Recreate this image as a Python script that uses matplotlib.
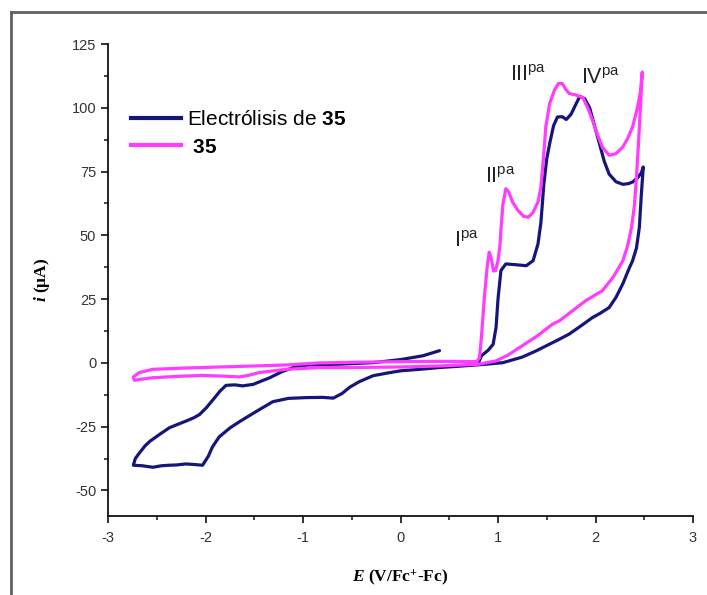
import matplotlib
matplotlib.use("Agg")
import matplotlib.pyplot as plt
from matplotlib.ticker import MultipleLocator
from matplotlib.lines import Line2D

plt.rcParams['font.family'] = ['Liberation Sans', 'DejaVu Sans']
plt.rcParams['mathtext.fontset'] = 'custom'
plt.rcParams['mathtext.rm'] = 'Liberation Serif:bold'
plt.rcParams['mathtext.it'] = 'Liberation Serif:italic:bold'
plt.rcParams['mathtext.bf'] = 'Liberation Sans:bold'
plt.rcParams['mathtext.default'] = 'regular'
plt.rcParams['axes.unicode_minus'] = False

# ---------------- data ----------------
# Electrólisis de 35 (navy), in scan order
blue_E = [0.80, 0.83, 0.90, 0.95, 0.98, 1.00, 1.03, 1.08, 1.18, 1.29, 1.36, 1.41, 1.44, 1.47, 1.50,
          1.53, 1.57, 1.61, 1.66, 1.70, 1.75, 1.80, 1.84, 1.89, 1.94, 1.99, 2.04, 2.09, 2.14, 2.21,
          2.28, 2.34, 2.38, 2.43, 2.47, 2.49,
          2.47, 2.45, 2.42, 2.38, 2.35, 2.28, 2.21, 2.14, 2.05, 1.97, 1.85, 1.73, 1.63, 1.50, 1.39,
          1.25, 1.05, 0.88, 0.60, 0.40, 0.20, 0.00, -0.11, -0.28, -0.42, -0.52, -0.60, -0.69, -0.80,
          -0.97, -1.15, -1.31, -1.50, -1.65, -1.75, -1.86, -1.93, -1.97, -2.03, -2.12, -2.20, -2.30,
          -2.37, -2.45, -2.54, -2.65, -2.74,
          -2.72, -2.69, -2.62, -2.57, -2.47, -2.37, -2.28, -2.20, -2.12, -2.06, -1.99, -1.92, -1.85,
          -1.79, -1.70, -1.62, -1.51, -1.42, -1.34, -1.22, -1.10, -0.95, -0.63, -0.28, 0.00, 0.23, 0.40]
blue_i = [0.0, 2.8, 5.0, 7.3, 13.9, 25.0, 36.2, 38.8, 38.5, 38.1, 40.1, 46.6, 55.0, 70.0, 80.0,
          86.0, 93.0, 96.4, 96.5, 95.4, 97.5, 101.5, 104.5, 103.5, 100.0, 93.0, 86.0, 79.0, 74.0, 71.0,
          70.0, 70.3, 70.9, 72.5, 74.5, 76.8,
          66.0, 53.2, 45.0, 40.0, 37.5, 31.0, 25.7, 21.7, 19.5, 17.8, 14.5, 11.3, 9.3, 6.8, 4.7,
          2.3, 0.1, -0.5, -1.3, -1.8, -2.5, -3.1, -3.8, -5.0, -7.3, -9.5, -12.0, -13.8, -13.5,
          -13.6, -13.9, -15.2, -19.5, -23.0, -25.5, -29.0, -33.0, -36.5, -40.1, -39.8, -39.6, -40.0,
          -40.1, -40.3, -40.9, -40.3, -40.1,
          -37.5, -35.9, -32.5, -30.7, -28.0, -25.4, -24.0, -22.8, -21.5, -20.2, -17.5, -14.3, -11.0,
          -8.8, -8.6, -9.0, -8.4, -7.0, -5.8, -3.5, -1.8, -0.8, -0.5, 0.1, 1.3, 2.8, 4.8]

# 35 (magenta), in scan order
pink_E = [0.78, 0.81, 0.83, 0.86, 0.89, 0.91, 0.93, 0.955, 0.975, 1.00, 1.02, 1.03, 1.05, 1.08, 1.11,
          1.15, 1.20, 1.26, 1.31, 1.36, 1.41, 1.44, 1.47, 1.49, 1.53, 1.58, 1.62, 1.66, 1.69, 1.73,
          1.80, 1.87, 1.92, 1.97, 2.02, 2.07, 2.14, 2.21, 2.28, 2.33, 2.38, 2.43, 2.46, 2.48,
          2.465, 2.45, 2.435, 2.42, 2.40, 2.37, 2.33, 2.28, 2.18, 2.07, 1.90, 1.75, 1.63, 1.56, 1.40,
          1.22, 1.10, 0.98, 0.80, 0.40, 0.00, -0.50, -0.83, -1.17, -1.45, -1.55, -1.65, -1.80, -2.03,
          -2.30, -2.54, -2.68, -2.73,
          -2.74, -2.68, -2.54, -2.20, -1.86, -1.50, -1.17, -0.83, -0.40, 0.00, 0.40, 0.78]
pink_i = [0.5, 2.0, 10.0, 25.7, 38.0, 43.4, 41.0, 36.0, 36.2, 40.0, 46.0, 52.0, 62.0, 68.3, 67.0,
          63.0, 60.0, 57.5, 57.1, 59.0, 63.0, 68.9, 82.0, 92.5, 101.7, 107.0, 109.5, 109.5, 107.5, 105.6,
          105.0, 104.0, 100.0, 95.0, 89.5, 84.6, 81.4, 82.0, 84.6, 88.0, 92.5, 100.0, 106.0, 114.0,
          103.0, 92.5, 82.0, 72.8, 62.0, 53.2, 46.0, 40.0, 33.5, 28.3, 24.4, 20.0, 16.5, 15.2, 10.5,
          6.0, 3.0, 0.8, -0.5, -1.2, -1.6, -1.8, -1.8, -2.5, -3.8, -4.8, -5.5, -5.2, -4.9,
          -5.3, -5.8, -6.5, -6.8,
          -5.5, -3.8, -2.5, -2.0, -1.6, -1.2, -0.8, 0.0, 0.3, 0.5, 0.6, 0.5]

legend_labels = ['Electrólisis de $\\mathbf{35}$', ' $\\mathbf{35}$']
peak_labels = ['I', 'II', 'III', 'IV']
peak_pos_E = [0.55, 0.87, 1.12, 1.85]
peak_pos_i = [45.5, 70.5, 110.5, 109.5]

x_ticks = [-3, -2, -1, 0, 1, 2, 3]
y_ticks = [-50, -25, 0, 25, 50, 75, 100, 125]

# ---------------- figure ----------------
W, H = 707, 595
fig = plt.figure(figsize=(W / 100, H / 100), dpi=100)
fig.patch.set_facecolor('white')

# outer frame lines (left and top)
fig.add_artist(Line2D([11 / W, 11 / W], [0, 1 - 12 / H], color='#606060', lw=2.0))
fig.add_artist(Line2D([11 / W, 1], [1 - 12 / H, 1 - 12 / H], color='#606060', lw=2.0))

ax = fig.add_axes([108 / W, 1 - 516 / H, (693 - 108) / W, (516 - 44) / H])
ax.set_xlim(-3, 3)
ax.set_ylim(-60, 125)

navy = '#16167a'
magenta = '#ff3cff'
ax.plot(blue_E, blue_i, color=navy, lw=2.3, solid_joinstyle='round', solid_capstyle='round')
ax.plot(pink_E, pink_i, color=magenta, lw=2.3, solid_joinstyle='round', solid_capstyle='round')

for sp in ['top', 'right']:
    ax.spines[sp].set_visible(False)
for sp in ['left', 'bottom']:
    ax.spines[sp].set_linewidth(1.3)
    ax.spines[sp].set_color('#111111')

ax.set_xticks(x_ticks)
ax.set_yticks(y_ticks)
ax.xaxis.set_minor_locator(MultipleLocator(0.5))
ax.yaxis.set_minor_locator(MultipleLocator(12.5))
ax.tick_params(which='major', direction='out', length=5, width=1.2, labelsize=10.5,
               labelcolor='#333333', color='#111111')
ax.tick_params(which='minor', direction='out', length=3, width=1.1, color='#111111')
ax.tick_params(axis='x', pad=6)

ax.set_xlabel(r'$\mathit{E}$ (V/Fc$^{+}$-Fc)', fontsize=12.5, fontweight='bold',
              family='Liberation Serif', labelpad=16)
ax.set_ylabel(r'$\mathit{i}$ (μA)', fontsize=12.5, fontweight='bold',
              family='Liberation Serif', labelpad=14)

# legend
h1 = Line2D([], [], color=navy, lw=3)
h2 = Line2D([], [], color=magenta, lw=3)
leg = ax.legend([h1, h2], legend_labels, loc='upper left', bbox_to_anchor=(0.025, 0.878),
                frameon=False, fontsize=15, handlelength=2.4, handletextpad=0.3,
                labelspacing=0.42, borderaxespad=0.0)

for lab, xe, yi in zip(peak_labels, peak_pos_E, peak_pos_i):
    ax.text(xe, yi, lab + r'$^{pa}$', fontsize=15.5, color='#222222', ha='left', va='baseline')

fig.savefig('out.png', dpi=100, facecolor='white')
